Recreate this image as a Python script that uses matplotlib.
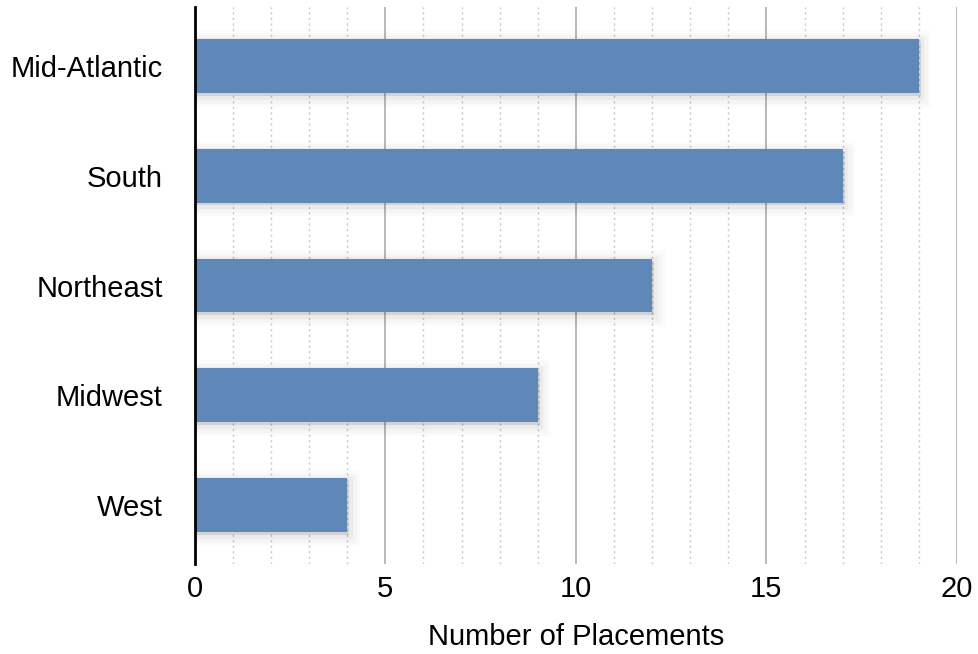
import matplotlib.pyplot as plt
import matplotlib.patheffects as pe
from matplotlib.ticker import MultipleLocator

# data
regions = ["Mid-Atlantic", "South", "Northeast", "Midwest", "West"]
placements = [19, 17, 12, 9, 4]

plt.rcParams["font.family"] = ["Liberation Sans", "DejaVu Sans"]

fig = plt.figure(figsize=(9.79, 6.54), dpi=100)
ax = fig.add_axes([0.199, 0.1376, 0.7785, 0.8517])

ypos = list(range(len(regions)))[::-1]

bars = ax.barh(ypos, placements, height=0.49, color="#5F87B8", zorder=3)
for b in bars:
    b.set_path_effects([pe.withSimplePatchShadow(offset=(1.5, -2), shadow_rgbFace="black", alpha=0.10)])
    # soft halo behind each bar to mimic a blurred shadow
    halo = plt.Rectangle(b.get_xy(), b.get_width(), b.get_height(),
                         facecolor="none", edgecolor="none", zorder=2)
    ax.add_patch(halo)
    halo.set_path_effects([
        pe.Stroke(linewidth=16, foreground="black", alpha=0.015, offset=(1, -2)),
        pe.Stroke(linewidth=11, foreground="black", alpha=0.025, offset=(1, -2)),
        pe.Stroke(linewidth=6, foreground="black", alpha=0.04, offset=(1, -2)),
    ])

ax.set_xlim(0, 20)
ax.set_ylim(-0.5376, len(regions) - 1 + 0.5376)
ax.set_yticks(ypos)
ax.set_yticklabels(regions)
ax.xaxis.set_major_locator(MultipleLocator(5))
ax.xaxis.set_minor_locator(MultipleLocator(1))

ax.grid(axis="x", which="major", color="#b3b3b3", linewidth=1.3, linestyle="-", zorder=0)
ax.grid(axis="x", which="minor", color="#c8c8c8", linewidth=1.0, linestyle=(0, (1.5, 2.5)), zorder=0)
ax.set_axisbelow(True)

for side in ["top", "right", "bottom"]:
    ax.spines[side].set_visible(False)
ax.spines["left"].set_color("black")
ax.spines["left"].set_linewidth(2)
ax.spines["left"].set_zorder(4)

ax.tick_params(axis="both", which="both", length=0, labelsize=21)
ax.tick_params(axis="y", pad=23)
ax.tick_params(axis="x", pad=8)

ax.set_xlabel("Number of Placements", fontsize=21, labelpad=14)

fig.savefig("out.png", dpi=100)
